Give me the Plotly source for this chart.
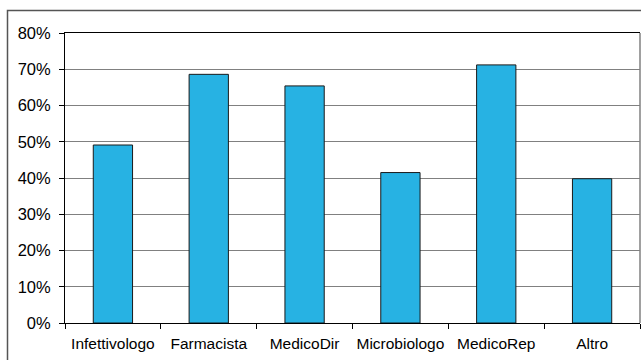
import plotly.graph_objects as go

categories = ["Infettivologo", "Farmacista", "MedicoDir", "Microbiologo", "MedicoRep", "Altro"]
values = [49.1, 68.6, 65.4, 41.5, 71.2, 39.8]
y_ticks = [0, 10, 20, 30, 40, 50, 60, 70, 80]
y_tick_labels = [f"{v}%" for v in y_ticks]

fig = go.Figure()
fig.add_trace(go.Bar(
    x=categories, y=values,
    marker=dict(color="#27B2E3", line=dict(color="#1a1a1a", width=1)),
    width=0.41,
))

W, H = 641, 360
ml, mr, mt, mb = 65, 1, 33, 37
pw, ph = W - ml - mr, H - mt - mb

def px_x(p):
    return (p - ml) / pw

def px_y(p):
    return (H - mb - p) / ph

fig.update_layout(
    width=W, height=H,
    margin=dict(l=ml, r=mr, t=mt, b=mb),
    paper_bgcolor="white", plot_bgcolor="white",
    showlegend=False,
    font=dict(family="Liberation Sans, Arial", size=15, color="black"),
    xaxis=dict(
        type="category", showline=True, linecolor="black", linewidth=1, mirror=True,
        ticks="outside", ticklen=5, tickcolor="black", tickson="boundaries",
        showgrid=False, tickfont=dict(size=15.5), ticklabelstandoff=6,
        tickangle=0, automargin=False,
    ),
    yaxis=dict(
        range=[0, 80], tickvals=y_ticks, ticktext=y_tick_labels,
        showline=True, linecolor="black", linewidth=1,
        ticks="outside", ticklen=5, tickcolor="black",
        showgrid=True, gridcolor="#808080", gridwidth=1,
        zeroline=False, tickfont=dict(size=16.5), ticklabelstandoff=5,
        automargin=False,
    ),
    shapes=[
        dict(type="rect", xref="paper", yref="paper",
             x0=px_x(7.5), x1=px_x(645), y0=px_y(370), y1=px_y(10.5),
             line=dict(color="#555555", width=1.5), fillcolor="rgba(0,0,0,0)", layer="above"),
        dict(type="line", xref="paper", yref="paper",
             x0=px_x(640), x1=px_x(640), y0=0, y1=1,
             line=dict(color="#808080", width=1.5)),
    ],
)

fig.write_html("out.html")
